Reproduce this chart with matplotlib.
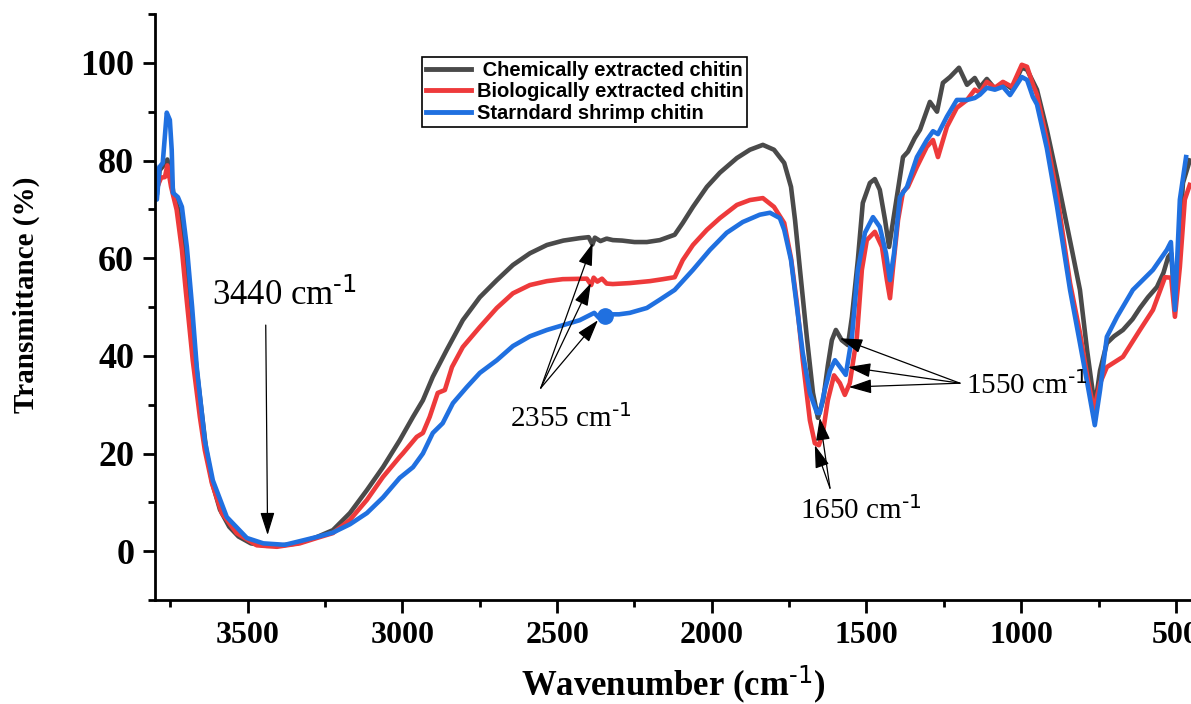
import matplotlib
matplotlib.use("Agg")
import matplotlib.pyplot as plt
from matplotlib.ticker import MultipleLocator

plt.rcParams['font.family'] = ['Liberation Serif', 'DejaVu Serif']
plt.rcParams['mathtext.default'] = 'regular'

# wavenumber (cm-1) / transmittance (%)
wn_chem = [3800, 3794, 3785, 3772, 3760, 3748, 3740, 3725, 3710, 3697, 3680, 3665, 3650, 3635,
           3615, 3590, 3560, 3530, 3490, 3440, 3400, 3340, 3280, 3225, 3170, 3115, 3063, 3009,
           2966, 2934, 2902, 2857, 2805, 2750, 2695, 2643, 2588, 2533, 2480, 2427, 2398, 2386,
           2378, 2360, 2340, 2320, 2290, 2250, 2210, 2168, 2120, 2094, 2061, 2016, 1974, 1919,
           1877, 1835, 1799, 1766, 1744, 1731, 1715, 1693, 1673, 1657, 1640, 1625, 1612, 1599,
           1580, 1560, 1547, 1528, 1512, 1489, 1473, 1457, 1440, 1427, 1415, 1402, 1382, 1366,
           1344, 1327, 1295, 1272, 1253, 1230, 1201, 1175, 1150, 1133, 1111, 1085, 1056, 1030,
           998, 981, 949, 917, 884, 836, 810, 787, 762, 745, 723, 700, 671, 640, 616, 590, 561,
           540, 525, 515, 503, 490, 477, 455]
t_chem = [78.5, 73, 78, 79, 80.2, 77, 73, 70, 63, 58, 46, 37, 29, 21,
          14, 8.5, 5, 3, 1.6, 1.1, 1.1, 1.6, 2.8, 4.3, 7.8, 12.5, 17.2, 22.7,
          27.5, 30.9, 35.7, 41.2, 47.3, 52, 55.5, 58.6, 61, 62.7, 63.6, 64.1, 64.3, 62.8,
          64.2, 63.5, 64, 63.7, 63.6, 63.3, 63.3, 63.7, 64.8, 67.2, 70.5, 74.6, 77.5, 80.5,
          82.2, 83.2, 82.2, 79.5, 74.6, 67.8, 57.6, 43.9, 32.4, 27.3, 31, 38, 43.2, 45.3,
          43.2, 42.2, 48, 59.6, 71.3, 75.4, 76.2, 74, 67.8, 62.3, 67.2, 72.5, 80.7, 81.8,
          84.6, 86.3, 92, 90, 95.9, 97.1, 99, 95.5, 96.9, 95, 96.7, 94.7, 95.9, 94.7,
          99, 98.6, 94.5, 86.3, 76.6, 61.7, 53.5, 41.2, 29.5, 37, 42.6, 44, 45.3, 47.5, 49.8, 52, 54.1,
          57, 60.2, 61, 50, 62, 75.4, 80]

wn_bio = [3800, 3790, 3780, 3768, 3760, 3748, 3730, 3713, 3700, 3678, 3655, 3639, 3616, 3584,
          3536, 3471, 3406, 3332, 3277, 3225, 3170, 3115, 3063, 3009, 2999, 2954, 2934, 2912,
          2886, 2863, 2840, 2805, 2750, 2695, 2643, 2588, 2533, 2482, 2404, 2390, 2382, 2370,
          2355, 2340, 2320, 2265, 2200, 2158, 2120, 2094, 2061, 2016, 1974, 1919, 1877, 1835,
          1799, 1766, 1744, 1725, 1706, 1683, 1667, 1654, 1641, 1625, 1605, 1586, 1570, 1554,
          1531, 1515, 1499, 1473, 1450, 1434, 1424, 1415, 1398, 1382, 1366, 1337, 1305, 1285,
          1269, 1240, 1208, 1175, 1150, 1133, 1111, 1085, 1059, 1030, 998, 981, 962, 949, 917,
          884, 842, 810, 784, 765, 745, 723, 671, 616, 574, 535, 515, 503, 487, 471, 455]
t_bio = [77, 75, 76.5, 76.6, 79, 74.6, 69.9, 61.7, 53, 39.1, 27.5, 20.7, 13.9, 7.8,
         3.7, 1.2, 0.9, 1.6, 2.7, 3.7, 6.4, 10.5, 15.2, 19.3, 20, 23.4, 24.2, 27.5,
         32.4, 33, 37.7, 41.8, 45.9, 49.8, 52.8, 54.5, 55.3, 55.7, 55.8, 54.5, 56, 55.2,
         55.8, 54.8, 54.7, 54.9, 55.3, 55.7, 56.1, 59.6, 62.7, 65.8, 68.2, 70.9, 71.9, 72.3,
         70.5, 67.2, 60, 50.8, 39.1, 26.8, 22.1, 21.7, 24.2, 30.9, 36, 34.4, 32, 34.4,
         43.9, 57.6, 63.7, 65.4, 62.3, 55.5, 51.8, 57.6, 67.8, 73.6, 74.6, 78.7, 82.8, 84.2,
         80.7, 86.9, 90.8, 92.4, 94.5, 93.9, 96.1, 94.9, 96.1, 95.1, 99.6, 99.2, 95.5, 93.5, 84.2,
         73, 54.9, 44.7, 35, 28.9, 34.4, 37.7, 39.8, 45.3, 49.4, 56.1, 56, 48, 58.2, 72, 75]

wn_std = [3800, 3794, 3785, 3775, 3762, 3752, 3746, 3742, 3726, 3713, 3697, 3680, 3665, 3639,
          3613, 3568, 3503, 3450, 3380, 3277, 3225, 3170, 3115, 3063, 3009, 2966, 2934, 2902,
          2870, 2837, 2792, 2750, 2695, 2643, 2588, 2533, 2427, 2380, 2365, 2346, 2300, 2265,
          2210, 2168, 2120, 2061, 2006, 1952, 1900, 1845, 1812, 1780, 1766, 1744, 1725, 1706,
          1683, 1660, 1651, 1635, 1618, 1602, 1583, 1567, 1547, 1528, 1505, 1479, 1457, 1437,
          1424, 1411, 1392, 1369, 1337, 1305, 1285, 1269, 1240, 1208, 1175, 1150, 1133, 1111,
          1085, 1059, 1036, 998, 981, 962, 949, 917, 884, 842, 810, 784, 762, 745, 723, 690,
          639, 574, 529, 516, 503, 487, 467]
t_std = [78.7, 72, 78.7, 79.5, 89.8, 88.3, 82.2, 73.4, 72.5, 70.5, 62.3, 50, 37.7, 22.7,
         14.5, 7, 2.7, 1.6, 1.3, 2.9, 3.8, 5.5, 7.8, 11, 15, 17.2, 20, 24.2,
         26.2, 30.3, 33.6, 36.5, 39.1, 42, 44, 45.3, 47.3, 48.8, 47.8, 48.5, 48.5, 48.8,
         49.8, 51.5, 53.5, 57.6, 61.7, 65.2, 67.4, 68.9, 69.3, 68.2, 65.8, 59.6, 50, 40.6,
         32.4, 28.3, 28.3, 33, 37, 39.1, 37.5, 36.1, 43.9, 57.6, 65.2, 68.4, 66.4, 61,
         55.5, 61, 72.5, 74.6, 80.7, 84.2, 86, 85.4, 89, 92.4, 92.4, 92.8, 93.5, 94.9,
         94.5, 95.1, 93.4, 97.1, 96.5, 93, 91.5, 82.5, 70.5, 53.5, 42.6, 33.6, 25.8, 33, 43.9, 48,
         53.5, 57.6, 61.7, 63.3, 49.4, 72, 80.7]

labels = [" Chemically extracted chitin", "Biologically extracted chitin", "Starndard shrimp chitin"]
colors = ["#4a4a4a", "#ee3a3b", "#2070e0"]

# blob on the standard curve near 2345
blob_wn = [2346]
blob_t = [48.2]

sup = r"cm$^{\text{-1}}$"
# peak labels: text, text position, arrow tips, arrow start, font size
peaks = [
    ("3440 " + sup, (3616, 50.4), [(3436, 3.3)], (3442, 46.3), 25),
    ("2355 " + sup, (2653, 25.4), [(2385, 63.1), (2391, 54.9), (2368, 47.3)], (2553, 33.4), 21),
    ("1650 " + sup, (1715, 6.6), [(1667, 21.7), (1651, 27.3)], (1618, 12.9), 21),
    ("1550 " + sup, (1179, 32.2), [(1586, 43.6), (1560, 37.7), (1557, 33.6)], (1198, 34.4), 21),
]

fig = plt.figure(figsize=(11.91, 7.04), dpi=100)
ax = fig.add_axes([155 / 1191, 104 / 704, 1036 / 1191, 586 / 704])

for wn, t, lab, c in zip([wn_chem, wn_bio, wn_std], [t_chem, t_bio, t_std], labels, colors):
    ax.plot(wn, t, color=c, lw=3.3, label=lab, solid_joinstyle='round')
ax.plot(blob_wn, blob_t, 'o', color=colors[2], ms=11)

for txt, pos, tips, start, fs in peaks:
    ax.text(pos[0], pos[1], txt, fontsize=fs, ha='left', va='baseline')
    for tip in tips:
        ax.annotate("", xy=tip, xytext=start,
                    arrowprops=dict(arrowstyle="-|>,head_length=0.7,head_width=0.22",
                                    color='k', lw=0.9, mutation_scale=20,
                                    shrinkA=0, shrinkB=0))

ax.set_xlim(3800, 451)
ax.set_ylim(-10, 110)
ax.set_xticks([3500, 3000, 2500, 2000, 1500, 1000, 500])
ax.xaxis.set_minor_locator(MultipleLocator(250))
ax.set_yticks([0, 20, 40, 60, 80, 100])
ax.yaxis.set_minor_locator(MultipleLocator(10))

for s in ['top', 'right']:
    ax.spines[s].set_visible(False)
for s in ['left', 'bottom']:
    ax.spines[s].set_linewidth(2)

ax.tick_params(which='major', direction='out', length=9, width=2, pad=6)
ax.tick_params(which='minor', direction='out', length=5, width=2)
for lab in ax.get_xticklabels():
    lab.set_fontsize(23)
    lab.set_fontweight('bold')
for lab in ax.get_yticklabels():
    lab.set_fontsize(26)
    lab.set_fontweight('bold')

ax.set_xlabel("Wavenumber (" + sup + ")", fontsize=25, fontweight='bold', va='center')
ax.xaxis.set_label_coords(0.5, -0.143)
ax.set_ylabel("Transmittance (%)", fontsize=21, fontweight='bold', va='center', ha='center')
ax.yaxis.set_label_coords(-0.1245, 0.52)

leg = ax.legend(loc='upper left', bbox_to_anchor=(0.258, 0.927), borderaxespad=0,
                prop={'family': 'Liberation Sans', 'weight': 'bold', 'size': 14.5},
                frameon=True, fancybox=False, framealpha=1, edgecolor='k',
                handlelength=2.2, handletextpad=0.3, labelspacing=0.12, borderpad=0.2)
leg.get_frame().set_linewidth(1.2)
for line in leg.get_lines():
    line.set_linewidth(3.5)

fig.savefig("out.png", dpi=100)
